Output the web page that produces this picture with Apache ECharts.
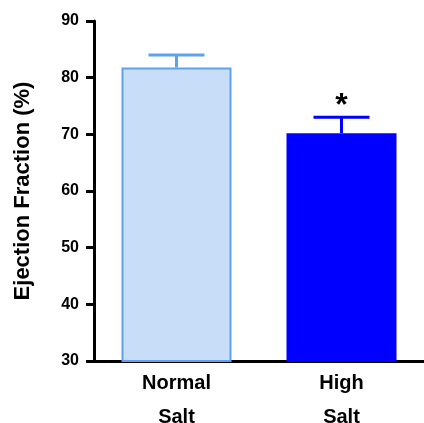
<!DOCTYPE html>
<html>
<head>
<meta charset="utf-8">
<script src="https://cdn.jsdelivr.net/npm/echarts@6/dist/echarts.min.js"></script>
<style>
  html, body { margin: 0; padding: 0; background: #fff; }
  #chart { width: 424px; height: 423px; }
</style>
</head>
<body>
<div id="chart"></div>
<script>
// Data
const groups = ['Normal\nSalt', 'High\nSalt'];
const meanValues = [81.8, 70.2];
const upperErrors = [84, 73];
const significance = ['', '*'];
const yTicks = { min: 30, max: 90, interval: 10 };

const barFills = ['#c8ddf7', '#0000ff'];
const barBorders = ['#5ea1ee', '#0000ff'];

const chart = echarts.init(document.getElementById('chart'));

chart.setOption({
  animation: false,
  textStyle: { fontFamily: 'Liberation Sans, Arial, sans-serif' },
  grid: { left: 94, right: 0, top: 21, bottom: 62, outerBoundsMode: 'none', containLabel: false },
  xAxis: {
    type: 'category',
    data: groups,
    axisLine: { lineStyle: { color: '#000', width: 3 } },
    axisTick: { show: false },
    axisLabel: {
      color: '#000',
      fontWeight: 'bold',
      fontSize: 20,
      lineHeight: 34,
      margin: 5
    }
  },
  yAxis: {
    type: 'value',
    min: yTicks.min,
    max: yTicks.max,
    interval: yTicks.interval,
    name: 'Ejection Fraction (%)',
    nameLocation: 'middle',
    nameGap: 60,
    nameTextStyle: { color: '#000', fontWeight: 'bold', fontSize: 22 },
    axisLine: { show: true, lineStyle: { color: '#000', width: 3 } },
    axisTick: { show: true, length: 8, lineStyle: { color: '#000', width: 3 } },
    axisLabel: { color: '#000', fontWeight: 'bold', fontSize: 16, margin: 15 },
    splitLine: { show: false }
  },
  series: [
    {
      type: 'bar',
      barWidth: 110,
      data: meanValues.map((v, i) => ({
        value: v,
        itemStyle: { color: barFills[i], borderColor: barBorders[i], borderWidth: 2 }
      })),
      z: 2
    },
    {
      // error bars (upper only) plus significance marks
      type: 'custom',
      z: 1,
      data: meanValues.map((v, i) => [i, v, upperErrors[i]]),
      renderItem: (params, api) => {
        const i = api.value(0);
        const base = api.coord([i, api.value(1)]);
        const top = api.coord([i, api.value(2)]);
        const color = barBorders[i];
        const half = 28;
        const children = [
          {
            type: 'line',
            shape: { x1: base[0], y1: base[1], x2: top[0], y2: top[1] },
            style: { stroke: color, lineWidth: 3 }
          },
          {
            type: 'line',
            shape: { x1: top[0] - half, y1: top[1], x2: top[0] + half, y2: top[1] },
            style: { stroke: color, lineWidth: 3 }
          }
        ];
        if (significance[i]) {
          children.push({
            type: 'text',
            style: {
              text: significance[i],
              x: top[0],
              y: top[1] - 11,
              align: 'center',
              verticalAlign: 'middle',
              fill: '#000',
              font: 'bold 32px Liberation Sans, Arial, sans-serif'
            }
          });
        }
        return { type: 'group', children };
      }
    }
  ]
});
</script>
</body>
</html>
